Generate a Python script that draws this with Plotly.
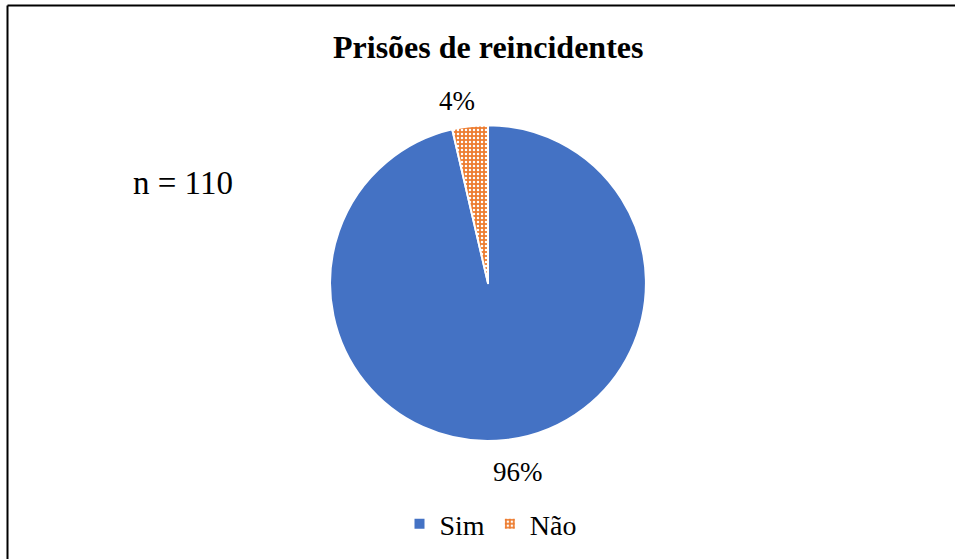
import plotly.graph_objects as go

labels = ["Sim", "Não"]
values = [106, 4]
colors = ["#4472C4", "#ED7D31"]
title_text = "Prisões de reincidentes"
n_text = "n = 110"

total = sum(values)
pcts = [f"{round(v / total * 100)}%" for v in values]

FONT = "Liberation Serif, Times New Roman, serif"

fig = go.Figure()
fig.add_trace(go.Pie(
    labels=labels,
    values=values,
    sort=False,
    direction="clockwise",
    rotation=0,
    textinfo="none",
    hoverinfo="label+percent",
    marker=dict(
        colors=colors,
        line=dict(color="white", width=2),
        pattern=dict(shape=["", "."], fgcolor=["#4472C4", "white"],
                     bgcolor=["#4472C4", "#ED7D31"], size=4, solidity=0.3,
                     fillmode="replace"),
    ),
    domain=dict(x=[0.3456, 0.6764], y=[0.211, 0.776]),
    showlegend=True,
))

annotations = [
    dict(text=f"<b>{title_text}</b>", x=488/955, y=1-47/559, xref="paper", yref="paper",
         showarrow=False, font=dict(family=FONT, size=32, color="black"),
         xanchor="center", yanchor="middle"),
    dict(text=n_text, x=183/955, y=1-183/559, xref="paper", yref="paper",
         showarrow=False, font=dict(family=FONT, size=33, color="black"),
         xanchor="center", yanchor="middle"),
    dict(text=pcts[1], x=457/955, y=1-101/559, xref="paper", yref="paper",
         showarrow=False, font=dict(family=FONT, size=27, color="black"),
         xanchor="center", yanchor="middle"),
    dict(text=pcts[0], x=518/955, y=1-472/559, xref="paper", yref="paper",
         showarrow=False, font=dict(family=FONT, size=27, color="black"),
         xanchor="center", yanchor="middle"),
]

shapes = [
    dict(type="line", xref="paper", yref="paper", x0=7.5/955, x1=1.02,
         y0=1-5.5/559, y1=1-5.5/559, line=dict(color="black", width=2)),
    dict(type="line", xref="paper", yref="paper", x0=7.5/955, x1=7.5/955,
         y0=-0.02, y1=1-5.5/559, line=dict(color="black", width=2)),
]

fig.update_layout(
    width=955, height=559,
    margin=dict(l=0, r=0, t=0, b=0),
    paper_bgcolor="white", plot_bgcolor="white",
    font=dict(family=FONT, size=28, color="black"),
    annotations=annotations,
    shapes=shapes,
    legend=dict(orientation="h", x=491/955, y=1-524/559, xanchor="center", yanchor="middle",
                font=dict(family=FONT, size=28), itemwidth=30, bgcolor="rgba(0,0,0,0)"),
)

fig.write_html("out.html", config={"displayModeBar": False},
               post_script="document.body.style.margin='0';document.body.style.overflow='hidden';")
